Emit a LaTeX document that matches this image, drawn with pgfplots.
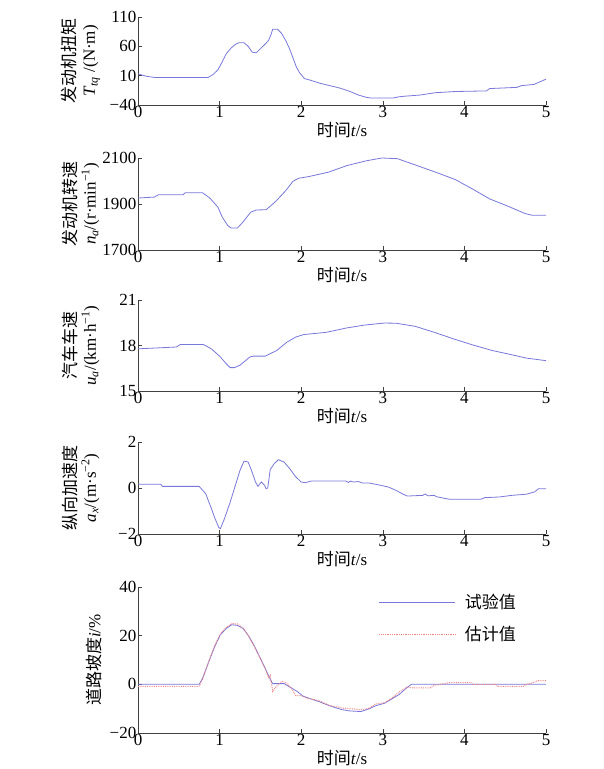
\documentclass[border=0pt]{standalone}
\usepackage{pgfplots}
\pgfplotsset{compat=1.18}
\usepackage{fontspec}
\setmainfont{Liberation Serif}
\newfontfamily\cjk{Noto Sans CJK SC}
\definecolor{blueline}{RGB}{120,120,220}
\definecolor{redline}{RGB}{240,130,130}
\newcommand{\fsz}{\fontsize{17}{19}\selectfont}
\pgfplotsset{
  sub/.style={
    scale only axis, width=408pt, xmin=0, xmax=5,
    axis x line*=bottom, axis y line*=left,
    axis line style={black!75, line width=0.6pt},
    tick style={black!75, line width=0.5pt},
    tick align=inside, major tick length=4pt,
    xtick={0,1,2,3,4,5}, xticklabels={0,1,2,3,4,5},
    ticklabel style={font=\fsz},
    xticklabel style={inner sep=1pt},
    yticklabel style={inner sep=1.5pt},
    xlabel={{\cjk 时间}\textit{t}/s},
    xlabel style={font=\fsz, at={(axis description cs:0.5,0)}, anchor=center, yshift=-25pt},
    ylabel style={font=\fsz, at={(axis description cs:-0.14,0.5)}, anchor=center, align=center},
    every axis plot/.append style={line width=0.8pt},
  }
}
\begin{document}
\begin{tikzpicture}
\useasboundingbox (0pt,0pt) rectangle (604pt,769pt);
\fill[white] (0pt,0pt) rectangle (604pt,769pt);
% 1 torque
\begin{axis}[sub, at={(138pt,664pt)}, anchor=south west, height=88pt,
  ymin=-40, ymax=110, ytick={-40,10,60,110}, yticklabels={−40,10,60,110},
  ylabel={{\cjk 发动机扭矩}\\\textit{T}\textsubscript{\textit{tq}} /(N·m)}]
\addplot[blueline] coordinates {(0,13)(0.1,9)(0.2,7)(0.86,7)(0.92,12)(0.98,20)(1.03,33)(1.08,47)(1.14,57)(1.2,64)(1.24,66)(1.3,66)(1.35,60)(1.4,50)(1.45,49)(1.5,56)(1.56,64)(1.6,70)(1.63,80)(1.65,89)(1.71,89)(1.76,82)(1.81,70)(1.86,55)(1.9,40)(1.94,25)(1.98,15)(2.04,5)(2.12,2)(2.23,-3)(2.35,-7)(2.47,-11)(2.6,-17)(2.7,-23)(2.8,-27)(2.85,-28)(3.13,-28)(3.2,-26)(3.27,-25)(3.46,-23)(3.55,-21)(3.65,-19)(3.89,-17)(4.27,-16)(4.31,-12)(4.64,-10)(4.7,-7)(4.85,-5)(5,4)};
\end{axis}
% 2 engine speed
\begin{axis}[sub, at={(138pt,519pt)}, anchor=south west, height=92pt,
  ymin=1700, ymax=2100, ytick={1700,1900,2100}, yticklabels={1700,1900,2100},
  ylabel={{\cjk 发动机转速}\\\textit{n}\textsubscript{\textit{a}}/(r·min\textsuperscript{−1})}]
\addplot[blueline] coordinates {(0,1926)(0.2,1930)(0.25,1940)(0.55,1940)(0.58,1949)(0.79,1949)(0.88,1926)(0.98,1886)(1.03,1845)(1.1,1806)(1.14,1796)(1.22,1796)(1.29,1823)(1.38,1864)(1.45,1874)(1.57,1875)(1.69,1912)(1.81,1958)(1.9,1999)(1.97,2012)(2.09,2019)(2.33,2038)(2.56,2067)(2.8,2088)(2.99,2100)(3.18,2097)(3.42,2067)(3.65,2038)(3.89,2006)(4.12,1961)(4.31,1922)(4.55,1888)(4.74,1859)(4.83,1851)(5,1851)};
\end{axis}
% 3 vehicle speed
\begin{axis}[sub, at={(138pt,378pt)}, anchor=south west, height=91pt,
  ymin=15, ymax=21, ytick={15,18,21}, yticklabels={15,18,21},
  ylabel={{\cjk 汽车车速}\\\textit{u}\textsubscript{\textit{a}}/(km·h\textsuperscript{−1})}]
\addplot[blueline] coordinates {(0,17.78)(0.47,17.9)(0.52,18.07)(0.8,18.07)(0.9,17.78)(1.01,17.24)(1.08,16.8)(1.13,16.54)(1.18,16.54)(1.25,16.7)(1.37,17.24)(1.42,17.3)(1.56,17.3)(1.7,17.67)(1.82,18.2)(1.93,18.55)(2.03,18.72)(2.31,18.87)(2.55,19.15)(2.78,19.35)(3.02,19.48)(3.16,19.47)(3.4,19.26)(3.63,18.87)(3.87,18.43)(4.1,18.04)(4.34,17.67)(4.58,17.39)(4.76,17.17)(5,17.0)};
\end{axis}
% 4 acceleration
\begin{axis}[sub, at={(138pt,235pt)}, anchor=south west, height=92pt,
  ymin=-2, ymax=2, ytick={-2,0,2}, yticklabels={−2,0,2},
  ylabel={{\cjk 纵向加速度}\\\textit{a}\textsubscript{\textit{x}}/(m·s\textsuperscript{−2})}]
\addplot[blueline] coordinates {(0,0.16)(0.28,0.16)(0.3,0.07)(0.75,0.07)(0.83,-0.25)(0.9,-0.9)(0.94,-1.29)(0.99,-1.72)(1.01,-1.77)(1.06,-1.33)(1.13,-0.61)(1.2,0.19)(1.25,0.77)(1.3,1.17)(1.35,1.13)(1.39,0.77)(1.44,0.26)(1.47,0.07)(1.51,0.26)(1.55,0.12)(1.57,-0.03)(1.59,0.0)(1.62,0.8)(1.67,1.06)(1.72,1.23)(1.79,1.13)(1.86,0.84)(1.93,0.5)(2.0,0.26)(2.05,0.23)(2.12,0.3)(2.55,0.3)(2.58,0.24)(2.6,0.3)(2.64,0.26)(2.7,0.28)(2.75,0.22)(2.83,0.22)(2.97,0.12)(3.07,0.04)(3.16,-0.1)(3.25,-0.27)(3.3,-0.35)(3.49,-0.32)(3.52,-0.26)(3.55,-0.34)(3.63,-0.32)(3.66,-0.38)(3.77,-0.46)(3.82,-0.49)(4.2,-0.49)(4.25,-0.42)(4.43,-0.39)(4.58,-0.32)(4.76,-0.27)(4.86,-0.17)(4.91,-0.03)(5,-0.03)};
\end{axis}
% 5 road slope
\begin{axis}[sub, at={(138pt,36pt)}, anchor=south west, height=146pt,
  ymin=-20, ymax=40, ytick={-20,0,20,40}, yticklabels={−20,0,20,40},
  ylabel style={at={(axis description cs:-0.108,0.5)}},
  ylabel={{\cjk 道路坡度}\textit{i}/\%},
  legend style={at={(axis description cs:0.59,0.965)}, anchor=north west, draw=none, fill=none, font=\fsz\cjk, row sep=12pt, column sep=7pt, inner sep=0pt},
  legend cell align=left,
  legend image code/.code={\draw[#1] (0pt,0pt) -- (76pt,0pt);}]
\addplot[blueline] coordinates {(0,0)(0.75,0)(0.79,2.4)(0.86,8.6)(0.94,15.5)(1.01,20.4)(1.08,22.9)(1.15,24.5)(1.22,24.2)(1.29,22.9)(1.36,19.7)(1.43,15.5)(1.5,10.7)(1.57,5.8)(1.62,2.1)(1.65,0.3)(1.79,0.3)(1.86,-1.1)(1.95,-2.9)(2.02,-4.8)(2.12,-6)(2.21,-7)(2.31,-8.3)(2.4,-9.4)(2.5,-10.4)(2.59,-10.9)(2.73,-11.2)(2.83,-10.1)(2.92,-8.7)(3.02,-7.8)(3.11,-6)(3.2,-4.2)(3.28,-1.8)(3.35,0)(5,0)};
\addlegendentry{试验值}
\addplot[redline, densely dotted, line width=1pt] coordinates {(0,-0.8)(0.75,-0.8)(0.79,2.0)(0.86,8.8)(0.94,15.9)(1.01,20.8)(1.08,23.3)(1.15,25)(1.22,24.8)(1.29,23.1)(1.36,19.5)(1.43,15.2)(1.5,10.5)(1.57,5.5)(1.6,2.5)(1.62,3.7)(1.65,-2.9)(1.69,-1.1)(1.76,1.2)(1.81,0.7)(1.88,-1.5)(1.93,-4.6)(2.0,-4.6)(2.07,-5.7)(2.21,-6.6)(2.35,-8.7)(2.5,-9.7)(2.64,-10.1)(2.73,-10.5)(2.83,-9.8)(2.92,-8)(3.02,-7.6)(3.11,-5.7)(3.2,-3.2)(3.3,-1.1)(3.37,-1.5)(3.58,-1.5)(3.63,-0.4)(3.82,0.7)(4.08,0.7)(4.1,0)(4.39,0)(4.41,-0.8)(4.72,-0.8)(4.76,0)(4.83,0.5)(4.9,1.5)(5,1.5)};
\addlegendentry{估计值}
\end{axis}
\end{tikzpicture}
\end{document}
